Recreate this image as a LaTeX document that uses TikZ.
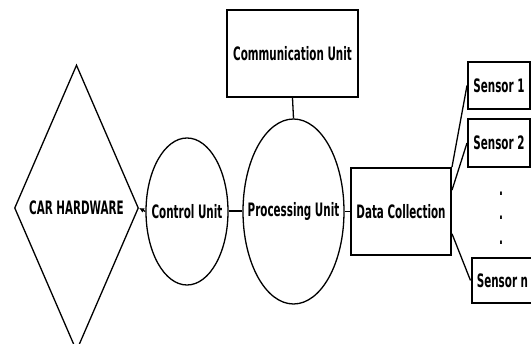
\documentclass[tikz,border=0pt]{standalone}
\usepackage{fontspec}
\setmainfont{DejaVu Sans}[FakeStretch=0.56]
\usetikzlibrary{shapes.geometric,arrows.meta,calc}
\begin{document}
\begin{tikzpicture}[x=1pt,y=-1pt,
  lbl/.style={font=\fontsize{18.5}{20}\selectfont\bfseries},
  boxnode/.style={draw,line width=2pt,inner sep=0pt,lbl},
  ellnode/.style={draw,ellipse,line width=1.3pt,inner sep=0pt},
  dianode/.style={draw,diamond,line width=1.3pt,inner sep=0pt},
  link/.style={line width=1.3pt}]
\useasboundingbox (0,0) rectangle (531,344);
\node[dianode,minimum width=124pt,minimum height=286pt,label={[lbl]center:CAR HARDWARE}] (car) at (76.5,208) {};
\node[ellnode,minimum width=82pt,minimum height=147pt,label={[lbl]center:Control Unit}] (cu) at (187,211.5) {};
\node[ellnode,minimum width=101pt,minimum height=185pt,label={[lbl]center:Processing Unit}] (pu) at (293.5,211.5) {};
\node[boxnode,minimum width=131pt,minimum height=87pt] (cb) at (292.5,53.5) {Communication Unit};
\node[boxnode,minimum width=100pt,minimum height=87pt] (dc) at (401,211.5) {Data Collection};
\node[boxnode,minimum width=62pt,minimum height=47pt] (s1) at (499,85.5) {Sensor 1};
\node[boxnode,minimum width=62pt,minimum height=48pt] (s2) at (499,143) {Sensor 2};
\node[boxnode,minimum width=62pt,minimum height=45pt] (sn) at (502.5,280.5) {Sensor n};
\node[lbl,anchor=base] (d1) at (501,196) {.};
\node[lbl,anchor=base] (d2) at (501,220) {.};
\node[lbl,anchor=base] (d3) at (501,245) {.};
\coordinate (dc2) at ($(dc.north east)!0.26!(dc.south east)$);
\coordinate (dcn) at ($(dc.north east)!0.75!(dc.south east)$);
\draw[link,-{Latex[length=5pt,width=5pt]}] (cu.west) -- (car.east);
\draw[line width=2pt] (cu.east) -- (pu.west);
\draw[link] (pu.east) -- (dc.west);
\draw[link] (cb.south) -- (pu.north);
\draw[link] (dc.north east) -- (s1.west);
\draw[link] (dc2) -- (s2.west);
\draw[link] (dcn) -- (sn.west);
\end{tikzpicture}
\end{document}
